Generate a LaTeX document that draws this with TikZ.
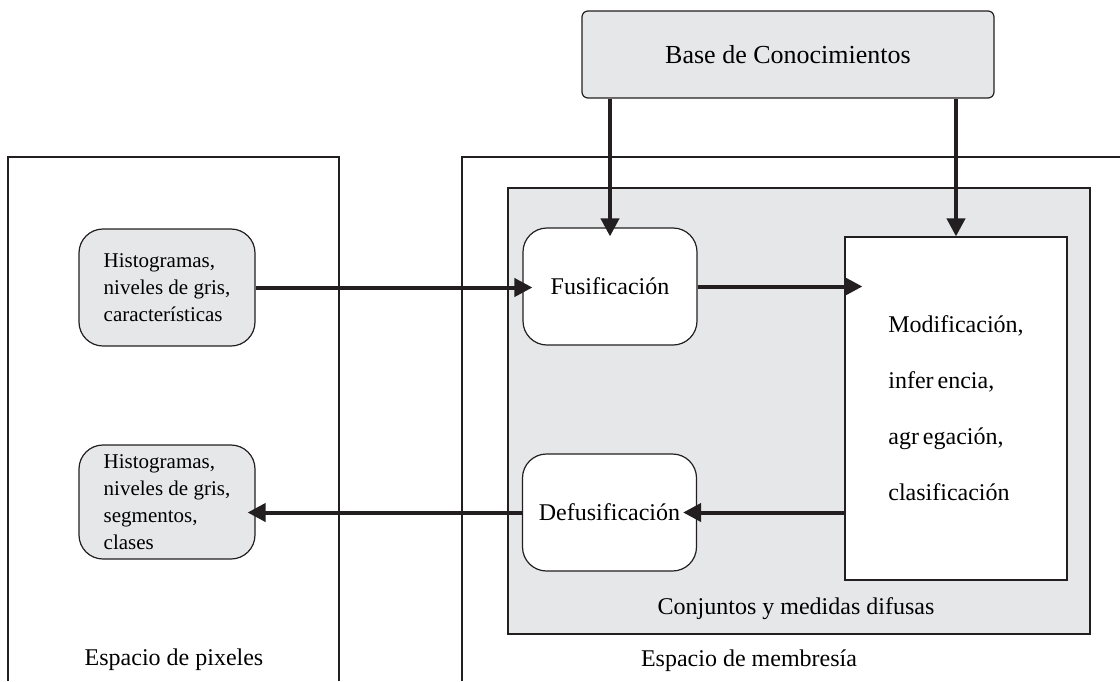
\documentclass[tikz,border=0pt]{standalone}
\usepackage{fontspec}
\setmainfont{Liberation Serif}
\usetikzlibrary{arrows.meta}
\definecolor{panelgray}{HTML}{E6E7E8}
\definecolor{ink}{HTML}{231F20}

\begin{document}
\begin{tikzpicture}[x=0.5pt, y=-0.5pt, >={Triangle[length=9pt, width=9pt]},
    box/.style={draw=ink, line width=0.6pt, inner sep=0pt},
    softbox/.style={box, rounded corners=12pt},
    histbox/.style={softbox, fill=panelgray, minimum width=88pt, align=left,
        font=\fontsize{10.5}{13.5}\selectfont},
    stagebox/.style={softbox, fill=white, minimum width=87pt, minimum height=58.5pt,
        font=\fontsize{12}{14}\selectfont},
    caption/.style={font=\fontsize{12}{14}\selectfont},
    flow/.style={->, line width=2pt, draw=ink}]
    \useasboundingbox (0,0) rectangle (1120,681);

    % Outer spaces, open at the bottom
    \draw[ink, line width=0.8pt] (8,681) -- (8,157) -- (339,157) -- (339,681);
    \draw[ink, line width=0.8pt] (462,681) -- (462,157) -- (1120,157);
    \node[caption] (pixlbl) at (174,660) {Espacio de pixeles};
    \node[caption] (memlbl) at (749,661) {Espacio de membresía};

    % Fuzzy sets panel
    \node[box, line width=0.8pt, fill=panelgray, minimum width=291pt, minimum height=223pt]
        (fuzzy) at (799,411) {};
    \node[caption] (fuzzylbl) at (796,609) {Conjuntos y medidas difusas};

    % Knowledge base
    \node[box, fill=panelgray, rounded corners=3pt, minimum width=206pt, minimum height=43.5pt,
        font=\fontsize{13}{15}\selectfont] (base) at (788,54.5) {Base de Conocimientos};

    % Pixel space boxes
    \node[histbox, minimum height=58.5pt] (histin) at (167,287.5)
        {Histogramas,\\niveles de gris,\\características};
    \node[histbox, minimum height=57pt] (histout) at (167,502)
        {Histogramas,\\niveles de gris,\\segmentos,\\clases};

    % Membership space boxes
    \node[stagebox] (fus) at (610,286.5) {Fusificación};
    \node[stagebox] (defus) at (609.5,512.5) {Defusificación};
    \node[box, fill=white, minimum width=111pt, minimum height=171.5pt, align=left,
        font=\fontsize{12}{28}\selectfont] (proc) at (956,408.5)
        {Modificación,\\infer\,encia,\\agr\,egación,\\clasificación};

    % Connectors
    \draw[flow, shorten >=-4.5pt] (base.south -| fus.north) -- (fus.north);
    \draw[flow] (base.south -| proc.north) -- (proc.north);
    \draw[flow, shorten >=-5pt] (histin.east) -- (histin.east -| fus.west);
    \draw[flow, shorten >=-9pt] (fus.east) -- (fus.east -| proc.west);
    \draw[flow, shorten >=-7pt] (proc.west |- defus.east) -- (defus.east);
    \draw[flow, shorten >=-4pt] (defus.west) -- (defus.west -| histout.east);
\end{tikzpicture}
\end{document}
